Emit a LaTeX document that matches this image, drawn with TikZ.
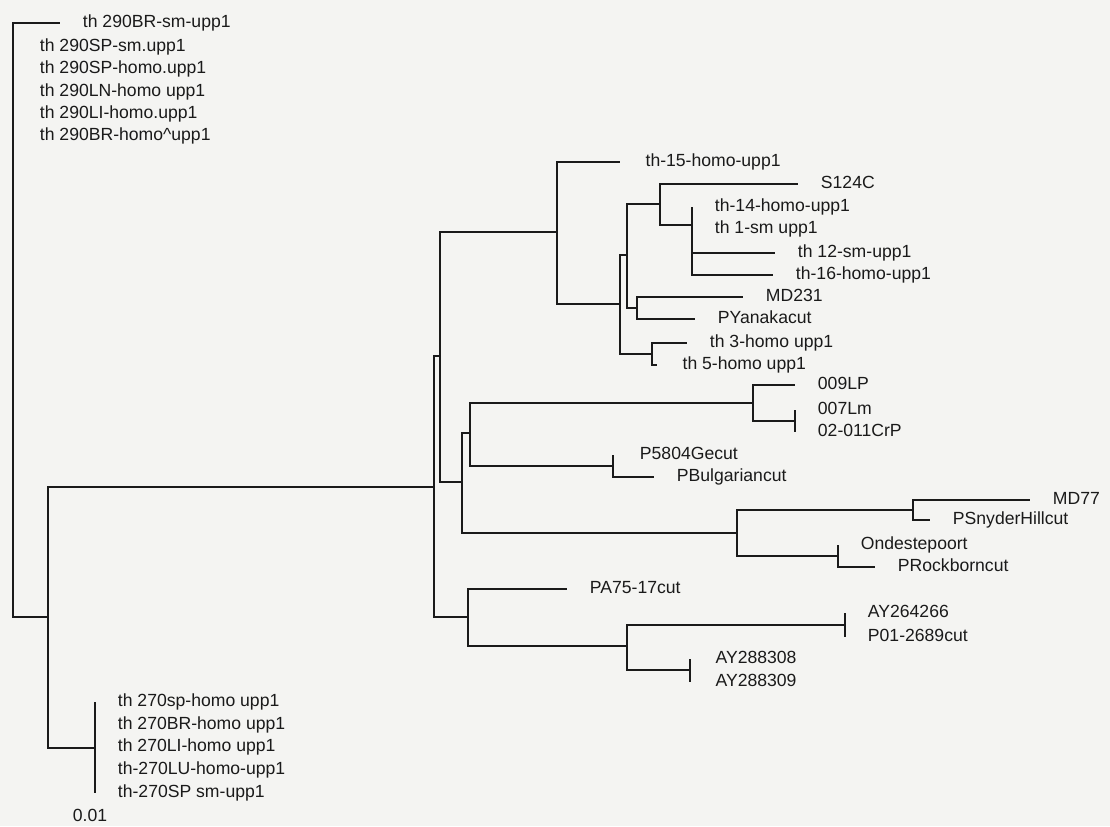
\documentclass[tikz,border=0pt]{standalone}
\usepackage{fontspec}
\setmainfont{Liberation Sans}
\usepackage{tikz}
\usetikzlibrary{positioning, calc}
\definecolor{treeInk}{HTML}{1A1A1A}
\definecolor{paper}{HTML}{F4F4F2}
\newcommand\taxfont{\fontsize{13.2}{15}\selectfont}

\begin{document}
\begin{tikzpicture}[
    x=0.75pt, y=-0.75pt,
    node distance=17pt,
    branch/.style={draw=treeInk, line width=1.4pt},
    taxon/.style={inner sep=0pt, text height=0.72em, text depth=0pt, font=\taxfont, text=treeInk},
]

% --- Page ---
\path[fill=paper, use as bounding box] (0,0) rectangle (1110,826);

% --- Internal nodes (x = branch depth, y = join height) ---
\coordinate (root) at (13,320);
\coordinate (n48) at (48,617);
\coordinate (n270) at (95,748);
\coordinate (nA) at (434,487);
\coordinate (nB) at (440,356);
\coordinate (n15) at (557,232);
\coordinate (nD) at (620,304);
\coordinate (nE) at (627,255);
\coordinate (nS) at (660,204);
\coordinate (nTh) at (692,225);
\coordinate (nMD) at (637,308);
\coordinate (n35) at (652,354);
\coordinate (nC) at (462,482);
\coordinate (nF) at (470,433);
\coordinate (nLP) at (753,403);
\coordinate (nLm) at (795,421);
\coordinate (nPB) at (613,466);
\coordinate (nG) at (737,533);
\coordinate (nMD77) at (913,510);
\coordinate (nOnd) at (838,556);
\coordinate (nPA) at (468,617);
\coordinate (nAY) at (627,646);
\coordinate (nAY26) at (845,625);
\coordinate (nAY28) at (690,670);

% --- Leaf tips ---
\coordinate (t290a) at (60,23);
\coordinate (t290b) at (13,47);
\coordinate (t290c) at (13,69);
\coordinate (t290d) at (13,92);
\coordinate (t290e) at (13,114);
\coordinate (t290f) at (13,136);
\coordinate (t270a) at (95,702);
\coordinate (t270b) at (95,725);
\coordinate (t270c) at (95,747);
\coordinate (t270d) at (95,770);
\coordinate (t270e) at (95,793);
\coordinate (t15) at (620,162);
\coordinate (tS124) at (798,184);
\coordinate (t14) at (692,207);
\coordinate (t1) at (692,229);
\coordinate (t12) at (775,253);
\coordinate (t16) at (773,275);
\coordinate (tMD231) at (743,297);
\coordinate (tPYan) at (695,319);
\coordinate (t3) at (687,343);
\coordinate (t5) at (657,365);
\coordinate (t009) at (795,385);
\coordinate (t007) at (795,410);
\coordinate (t02) at (795,432);
\coordinate (tP58) at (613,455);
\coordinate (tPBul) at (654,477);
\coordinate (tMD77) at (1030,500);
\coordinate (tPSny) at (930,520);
\coordinate (tOnd) at (838,545);
\coordinate (tPRock) at (875,567);
\coordinate (tPA75) at (567,589);
\coordinate (tAY264) at (845,613);
\coordinate (tP01) at (845,637);
\coordinate (tAY308) at (690,659);
\coordinate (tAY309) at (690,682);

% --- Branches ---
\draw[branch] (root) |- (t290a);
\draw[branch] (root) |- (t290f);
\draw[branch] (root) |- (n48);
\draw[branch] (n48) |- (nA);
\draw[branch] (n48) |- (n270);
\draw[branch] (t270a) -- (t270e);

\draw[branch] (nA) |- (nB);
\draw[branch] (nA) |- (nPA);
\draw[branch] (nB) |- (n15);
\draw[branch] (nB) |- (nC);

% upper group
\draw[branch] (n15) |- (t15);
\draw[branch] (n15) |- (nD);
\draw[branch] (nD) |- (nE);
\draw[branch] (nD) |- (n35);
\draw[branch] (nE) |- (nS);
\draw[branch] (nE) |- (nMD);
\draw[branch] (nS) |- (tS124);
\draw[branch] (nS) |- (nTh);
\draw[branch] (nTh) |- (t14);
\draw[branch] (nTh) |- (t12);
\draw[branch] (nTh) |- (t16);
\draw[branch] (nMD) |- (tMD231);
\draw[branch] (nMD) |- (tPYan);
\draw[branch] (n35) |- (t3);
\draw[branch] (n35) |- (t5);

% middle group
\draw[branch] (nC) |- (nF);
\draw[branch] (nC) |- (nG);
\draw[branch] (nF) |- (nLP);
\draw[branch] (nF) |- (nPB);
\draw[branch] (nLP) |- (t009);
\draw[branch] (nLP) |- (nLm);
\draw[branch] (t007) -- (t02);
\draw[branch] (nPB) |- (tP58);
\draw[branch] (nPB) |- (tPBul);
\draw[branch] (nG) |- (nMD77);
\draw[branch] (nG) |- (nOnd);
\draw[branch] (nMD77) |- (tMD77);
\draw[branch] (nMD77) |- (tPSny);
\draw[branch] (nOnd) |- (tOnd);
\draw[branch] (nOnd) |- (tPRock);

% lower group
\draw[branch] (nPA) |- (tPA75);
\draw[branch] (nPA) |- (nAY);
\draw[branch] (nAY) |- (nAY26);
\draw[branch] (nAY) |- (nAY28);
\draw[branch] (tAY264) -- (tP01);
\draw[branch] (tAY308) -- (tAY309);

% --- Taxon labels ---
\node[taxon, right=of t290a] (l290a) {th 290BR-sm-upp1};
\node[taxon, right=20pt of t290b] (l290b) {th 290SP-sm.upp1};
\node[taxon, right=20pt of t290c] (l290c) {th 290SP-homo.upp1};
\node[taxon, right=20pt of t290d] (l290d) {th 290LN-homo upp1};
\node[taxon, right=20pt of t290e] (l290e) {th 290LI-homo.upp1};
\node[taxon, right=20pt of t290f] (l290f) {th 290BR-homo\textasciicircum upp1};

\node[taxon, right=19pt of t15] (l15) {th-15-homo-upp1};
\node[taxon, right=of tS124] (lS124) {S124C};
\node[taxon, right=of t14] (l14) {th-14-homo-upp1};
\node[taxon, right=of t1] (l1) {th 1-sm upp1};
\node[taxon, right=of t12] (l12) {th 12-sm-upp1};
\node[taxon, right=of t16] (l16) {th-16-homo-upp1};
\node[taxon, right=of tMD231] (lMD231) {MD231};
\node[taxon, right=of tPYan] (lPYan) {PYanakacut};
\node[taxon, right=of t3] (l3) {th 3-homo upp1};
\node[taxon, right=19pt of t5] (l5) {th 5-homo upp1};

\node[taxon, right=of t009] (l009) {009LP};
\node[taxon, right=of t007] (l007) {007Lm};
\node[taxon, right=of t02] (l02) {02-011CrP};
\node[taxon, right=20pt of tP58] (lP58) {P5804Gecut};
\node[taxon, right=of tPBul] (lPBul) {PBulgariancut};
\node[taxon, right=of tMD77] (lMD77) {MD77};
\node[taxon, right=of tPSny] (lPSny) {PSnyderHillcut};
\node[taxon, right=of tOnd] (lOnd) {Ondestepoort};
\node[taxon, right=of tPRock] (lPRock) {PRockborncut};

\node[taxon, right=of tPA75] (lPA75) {PA75-17cut};
\node[taxon, right=of tAY264] (lAY264) {AY264266};
\node[taxon, right=of tP01] (lP01) {P01-2689cut};
\node[taxon, right=19pt of tAY308] (lAY308) {AY288308};
\node[taxon, right=19pt of tAY309] (lAY309) {AY288309};

\node[taxon, right=of t270a] (l270a) {th 270sp-homo upp1};
\node[taxon, right=of t270b] (l270b) {th 270BR-homo upp1};
\node[taxon, right=of t270c] (l270c) {th 270LI-homo upp1};
\node[taxon, right=of t270d] (l270d) {th-270LU-homo-upp1};
\node[taxon, right=of t270e] (l270e) {th-270SP sm-upp1};

% --- Scale ---
\node[taxon] (scale) at (90,817) {0.01};

\end{tikzpicture}
\end{document}
